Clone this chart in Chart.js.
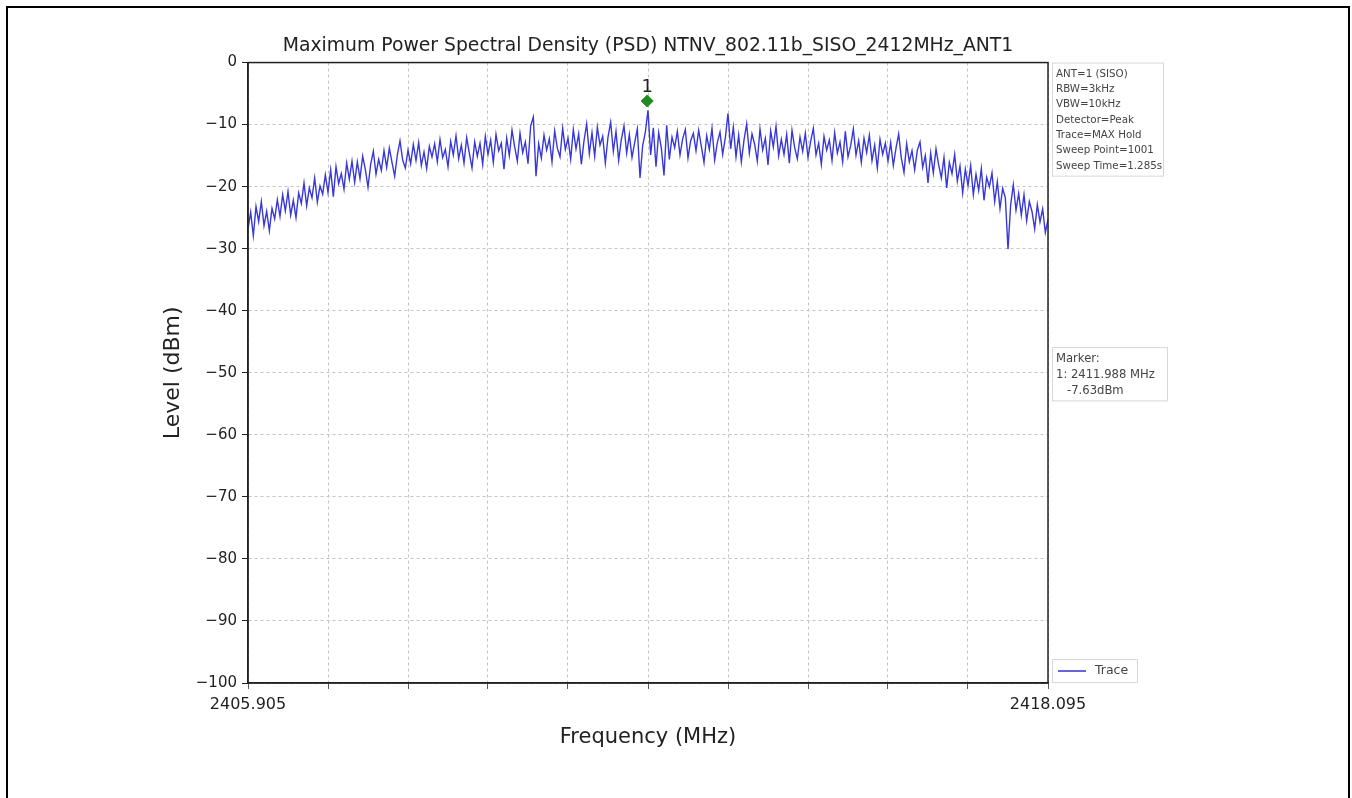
<!DOCTYPE html>
<html>
<head>
<meta charset="utf-8">
<script src="https://cdn.jsdelivr.net/npm/chart.js@4/dist/chart.umd.min.js"></script>
<style>
  html, body { margin: 0; padding: 0; background: #fff; }
  #wrap { width: 1352px; height: 798px; position: relative; }
</style>
</head>
<body>
<div id="wrap"><canvas id="psd" width="1352" height="798"></canvas></div>
<script>
// span of the sweep (MHz)
const freqStart = 2405.905;
const freqStop = 2418.095;

// trace levels (dBm) left to right, 301 points
const traceLevels = [
  -26.8, -24.1, -27.9, -23.2, -25.6, -22.4, -26.3, -24.0, -27.1, -23.5,
  -25.2, -22.1, -24.8, -21.3, -23.9, -20.8, -24.6, -22.2, -25.0, -21.0,
  -22.7, -19.4, -23.1, -20.2, -21.8, -18.6, -22.5, -19.9, -21.2, -18.1,
  -20.9, -17.3, -21.6, -16.8, -19.5, -17.9, -20.4, -16.2, -18.8, -15.9,
  -19.3, -16.0, -18.7, -15.1, -17.2, -20.1, -16.4, -14.3, -18.0, -15.6,
  -17.4, -14.2, -16.9, -13.8, -16.1, -18.3, -14.9, -12.6, -15.7, -17.0,
  -14.1, -16.3, -13.2, -15.8, -12.9, -16.6, -14.4, -17.1, -13.5, -15.2,
  -13.1, -16.0, -12.4, -15.3, -14.0, -16.8, -12.7, -14.9, -11.8, -15.5,
  -13.3, -16.2, -12.1, -14.6, -17.0, -12.8, -15.1, -13.0, -16.4, -11.9,
  -14.8, -12.5, -16.1, -11.6, -14.2, -13.0, -17.2, -12.2, -15.0, -10.9,
  -13.6, -15.9, -11.4, -14.5, -12.8, -16.3, -10.2, -8.8, -18.3, -13.1,
  -15.4, -11.7, -14.1, -12.3, -16.0, -11.0, -13.8, -15.2, -10.6, -14.0,
  -12.2, -15.6, -10.8, -13.9, -11.5, -16.4, -12.6, -9.9, -14.7, -11.3,
  -15.1, -10.4, -13.3, -11.9, -16.2, -12.0, -9.6, -14.3, -11.1, -15.8,
  -12.4, -10.2, -14.6, -11.6, -15.3, -12.9, -10.7, -18.6, -13.4, -11.2,
  -7.7, -14.9, -10.5, -16.8, -11.3, -13.8, -18.2, -10.1, -15.6, -12.0,
  -13.7, -11.1, -14.9, -12.3, -10.8, -15.4, -12.6, -11.4, -14.2, -10.9,
  -13.5, -16.1, -11.8, -14.0, -10.6, -15.7, -12.9, -11.2, -14.8, -12.1,
  -8.2, -13.9, -10.4, -15.2, -11.7, -16.0, -12.5, -9.9, -14.6, -11.5,
  -13.2, -15.9, -10.7, -14.1, -12.2, -16.5, -11.0, -13.6, -10.3, -15.0,
  -12.4, -14.8, -11.6, -16.2, -10.9, -13.7, -15.5, -12.0, -14.3, -11.4,
  -15.3, -12.7, -10.6, -14.9, -13.0, -16.4, -11.9, -14.1, -12.5, -15.8,
  -11.3, -14.6, -12.8, -16.0, -11.1, -15.2, -13.4, -10.7, -14.9, -12.6,
  -16.1, -12.2, -14.5, -11.7, -15.8, -13.3, -17.0, -12.4, -14.8, -13.0,
  -15.9, -12.9, -16.6, -13.8, -11.5, -15.4, -17.7, -13.1, -16.0, -14.2,
  -17.3, -14.1, -12.8, -16.9, -15.0, -19.4, -14.6, -17.8, -13.9, -16.5,
  -18.6, -15.3, -20.2, -16.1, -17.9, -14.8, -19.1, -16.7, -21.0, -17.2,
  -19.8, -16.6, -21.3, -18.0, -20.6, -17.1, -22.2, -18.5, -20.0, -17.8,
  -22.4, -19.2, -23.5, -20.3, -21.8, -30.1, -22.9, -19.7, -23.8, -21.1,
  -24.6, -21.3, -25.5, -22.4, -24.0, -26.8, -22.9, -25.7, -23.6, -27.4,
  -25.3
];

// marker 1
const markerFreq = [2411.988];
const markerLevel = [-6.2];
const markerNames = ["1"];

// y ticks
const levelTicks = [0, -10, -20, -30, -40, -50, -60, -70, -80, -90, -100];

// text boxes on the right
const settingLines = ["ANT=1 (SISO)", "RBW=3kHz", "VBW=10kHz", "Detector=Peak",
  "Trace=MAX Hold", "Sweep Point=1001", "Sweep Time=1.285s"];
const markerLines = ["Marker:", "1: 2411.988 MHz", "   -7.63dBm"];

const chartTitle = "Maximum Power Spectral Density (PSD) NTNV_802.11b_SISO_2412MHz_ANT1";

// build points: frequencies spread evenly over the sweep
const step = (freqStop - freqStart) / (traceLevels.length - 1);
const tracePoints = traceLevels.map((v, i) => ({ x: freqStart + i * step, y: v }));
const markerPoints = markerFreq.map((f, i) => ({ x: f, y: markerLevel[i] }));

// grid positions along x: 10 equal divisions
const freqGrid = [];
for (let k = 0; k <= 10; k++) freqGrid.push(freqStart + k * (freqStop - freqStart) / 10);

const FONT = "'DejaVu Sans', sans-serif";

const extras = {
  id: "extras",
  beforeDraw(chart) {
    const ctx = chart.ctx;
    ctx.save();
    ctx.fillStyle = "#fff";
    ctx.fillRect(0, 0, chart.width, chart.height);
    // outer frame
    ctx.strokeStyle = "#000";
    ctx.lineWidth = 2;
    ctx.beginPath();
    ctx.moveTo(7, 798);
    ctx.lineTo(7, 7);
    ctx.lineTo(1349, 7);
    ctx.lineTo(1349, 798);
    ctx.stroke();
    ctx.restore();
  },
  afterDatasetsDraw(chart) {
    const ctx = chart.ctx;
    const a = chart.chartArea;
    const xs = chart.scales.x, ys = chart.scales.y;
    ctx.save();
    // spines
    ctx.strokeStyle = "#222";
    ctx.lineWidth = 1.5;
    ctx.strokeRect(a.left, a.top, a.right - a.left, a.bottom - a.top);

    // marker label
    ctx.fillStyle = "#222";
    ctx.font = "18px " + FONT;
    ctx.textAlign = "center";
    ctx.textBaseline = "alphabetic";
    markerPoints.forEach((p, i) => {
      ctx.fillText(markerNames[i], xs.getPixelForValue(p.x), ys.getPixelForValue(p.y) - 9);
    });

    // info boxes
    const bx = a.right + 4;
    ctx.textAlign = "left";
    ctx.textBaseline = "middle";
    function box(lines, top, w, lh, size) {
      const h = lines.length * lh + 6;
      ctx.font = size + "px " + FONT;
      ctx.strokeStyle = "#d8d8d8";
      ctx.lineWidth = 1;
      ctx.strokeRect(bx + 0.5, top + 0.5, w, h);
      ctx.fillStyle = "#444";
      lines.forEach((t, i) => ctx.fillText(t, bx + 4, top + 4 + lh * i + lh / 2));
    }
    box(settingLines, a.top, 111, 15.3, 10.3);
    box(markerLines, 347, 115, 15.8, 11.6);

    // legend
    const ly = a.bottom - 24;
    ctx.strokeStyle = "#d8d8d8";
    ctx.lineWidth = 1;
    ctx.strokeRect(bx + 0.5, ly + 0.5, 85, 23);
    ctx.strokeStyle = "#3333cc";
    ctx.lineWidth = 1.5;
    ctx.beginPath();
    ctx.moveTo(bx + 6, ly + 12);
    ctx.lineTo(bx + 34, ly + 12);
    ctx.stroke();
    ctx.fillStyle = "#444";
    ctx.font = "12.5px " + FONT;
    ctx.fillText("Trace", bx + 43, ly + 12);
    ctx.restore();
  }
};

const config = {
  type: "line",
  data: {
    datasets: [
      {
        label: "Trace",
        data: tracePoints,
        borderColor: "#3838d8",
        borderWidth: 1.4,
        pointRadius: 0,
        tension: 0,
        order: 2
      },
      {
        label: "Marker",
        data: markerPoints,
        showLine: false,
        pointStyle: "rectRot",
        pointRadius: 6,
        backgroundColor: "#1f8c1f",
        borderColor: "#1f8c1f",
        order: 1
      }
    ]
  },
  options: {
    responsive: false,
    animation: false,
    events: [],
    layout: { padding: { left: 160, right: 304, top: 0, bottom: 48 } },
    plugins: {
      legend: { display: false },
      tooltip: { enabled: false },
      title: {
        display: true,
        text: chartTitle,
        fullSize: false,
        color: "#222",
        font: { family: FONT, size: 18.8, weight: "normal" },
        padding: { top: 35, bottom: 5 }
      }
    },
    scales: {
      x: {
        type: "linear",
        min: freqStart,
        max: freqStop,
        afterBuildTicks(scale) {
          scale.ticks = freqGrid.map(v => ({ value: v }));
        },
        afterFit(scale) { scale.height = 67; },
        ticks: {
          autoSkip: false,
          maxRotation: 0,
          padding: 6,
          color: "#222",
          font: { family: FONT, size: 16 },
          callback(v, i) {
            if (i === 0) return freqStart.toFixed(3);
            if (i === freqGrid.length - 1) return freqStop.toFixed(3);
            return "";
          }
        },
        grid: {
          color: "#c4c4c4",
          lineWidth: 1,
          tickLength: 6,
          tickColor: "#222",
          tickBorderDash: [1, 0]
        },
        border: { display: true, color: "#222", width: 1.5, dash: [3, 3] },
        title: {
          display: true,
          text: "Frequency (MHz)",
          color: "#222",
          font: { family: FONT, size: 21 },
          padding: { top: 0, bottom: 0 }
        }
      },
      y: {
        min: -100,
        max: 0,
        afterBuildTicks(scale) {
          scale.ticks = levelTicks.map(v => ({ value: v }));
        },
        afterFit(scale) { scale.width = 88; },
        ticks: {
          padding: 5,
          color: "#222",
          font: { family: FONT, size: 15 },
          callback(v) { return v < 0 ? "\u2212" + Math.abs(v) : String(v); }
        },
        grid: {
          color: "#c4c4c4",
          lineWidth: 1,
          tickLength: 6,
          tickColor: "#222",
          tickBorderDash: [1, 0]
        },
        border: { display: true, color: "#222", width: 1.5, dash: [3, 3] },
        title: {
          display: true,
          text: "Level (dBm)",
          color: "#222",
          font: { family: FONT, size: 22 },
          padding: { top: 0, bottom: 0 }
        }
      }
    }
  },
  plugins: [extras]
};

new Chart(document.getElementById("psd"), config);
</script>
</body>
</html>
